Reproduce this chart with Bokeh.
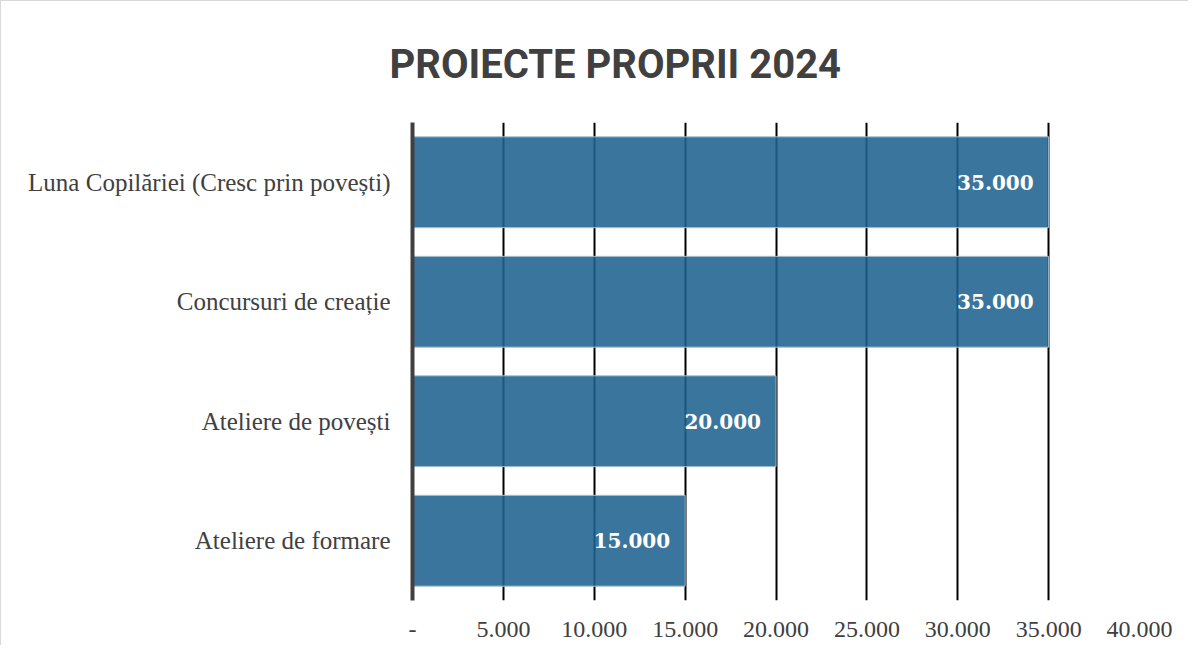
from bokeh.plotting import figure
from bokeh.models import ColumnDataSource, FixedTicker, Range1d, FactorRange
from bokeh.core.properties import value
from bokeh.embed import file_html
from bokeh.resources import INLINE

categories = ["Luna Copilăriei (Cresc prin povești)", "Concursuri de creație",
              "Ateliere de povești", "Ateliere de formare"]
values = [35000, 35000, 20000, 15000]
value_labels = ["35.000", "35.000", "20.000", "15.000"]
tick_values = [0, 5000, 10000, 15000, 20000, 25000, 30000, 35000, 40000]
tick_labels = ["-", "5.000", "10.000", "15.000", "20.000", "25.000", "30.000", "35.000", "40.000"]
title_text = "PROIECTE PROPRII 2024"

src = ColumnDataSource(dict(cat=categories, val=values, lab=value_labels))

p = figure(width=1188, height=645, output_backend="svg", toolbar_location=None,
           y_range=FactorRange(*list(reversed(categories))),
           x_range=Range1d(0, 40000),
           min_border_left=411, min_border_right=50, min_border_top=121, min_border_bottom=46)
p.outline_line_color = None
p.styles = {"border-top": "1px solid #d9d9d9", "border-left": "1px solid #d9d9d9"}

p.title.text = title_text
p.title.align = "left"
p.title.offset = -23
p.title.standoff = 70
p.title.text_font = "Roboto"
p.title.text_font_style = "bold"
p.title.text_font_size = "40px"
p.title.text_color = "#404040"

p.hbar(y="cat", right="val", left=0, height=0.76, source=src,
       fill_color="#1f6290", fill_alpha=0.88, line_color="#a9c0d0", line_width=1)

p.text(x="val", y="cat", text="lab", source=src, x_offset=-15,
       text_align="right", text_baseline="middle", text_color="white",
       text_font=value("DejaVu Serif"), text_font_style="bold", text_font_size="20px")

# x axis
p.xaxis.ticker = FixedTicker(ticks=tick_values)
p.xaxis.major_label_overrides = {t: l for t, l in zip(tick_values, tick_labels)}
p.xaxis.axis_line_color = None
p.xaxis.major_tick_line_color = None
p.xaxis.minor_tick_line_color = None
p.xaxis.major_label_standoff = 15
p.xaxis.major_label_text_font = "Liberation Serif"
p.xaxis.major_label_text_font_size = "24px"
p.xaxis.major_label_text_color = "#404040"

p.xgrid.ticker = FixedTicker(ticks=tick_values)
p.xgrid.grid_line_color = "black"
p.xgrid.grid_line_width = 2
p.ygrid.grid_line_color = None

# y axis
p.yaxis.axis_line_color = "#404040"
p.yaxis.axis_line_width = 4
p.yaxis.major_tick_line_color = None
p.yaxis.minor_tick_line_color = None
p.yaxis.major_label_standoff = 16
p.yaxis.major_label_text_font = "Liberation Serif"
p.yaxis.major_label_text_font_size = "25px"
p.yaxis.major_label_text_color = "#404040"

open("out.html", "w").write(file_html(p, INLINE))
